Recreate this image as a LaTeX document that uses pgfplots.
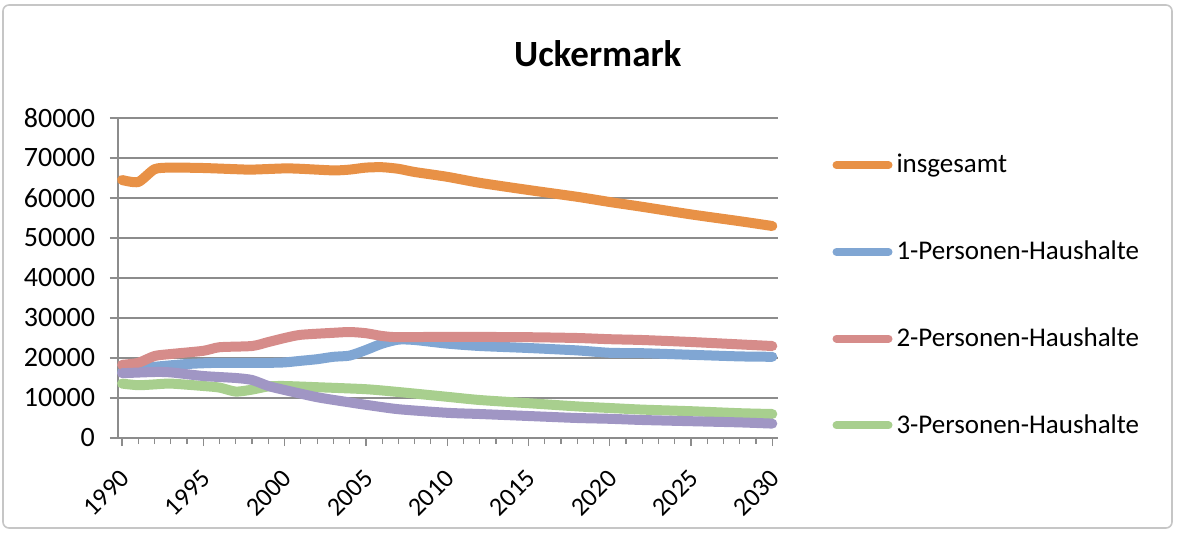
\documentclass[border=0pt]{standalone}
\usepackage{fontspec}
\setmainfont{Carlito}
\usepackage{pgfplots}
\pgfplotsset{compat=1.18}
\definecolor{cOr}{RGB}{232,145,70}
\definecolor{cBl}{RGB}{128,166,211}
\definecolor{cRd}{RGB}{214,140,138}
\definecolor{cGr}{RGB}{168,207,142}
\definecolor{cPu}{RGB}{160,150,196}
\definecolor{cGrid}{RGB}{140,140,140}
\begin{document}
\begin{tikzpicture}
\useasboundingbox (-59pt,-47pt) rectangle (531pt,219pt);
\draw[rounded corners=3pt, gray!45, line width=0.8pt] (-57.5pt,-45pt) rectangle (527pt,216.5pt);
\begin{axis}[
  scale only axis,
  width=330pt, height=160pt,
  at={(0pt,0pt)}, anchor=origin,
  xmin=1989.75, xmax=2030.35,
  ymin=0, ymax=80000,
  ytick distance=10000,
  xtick={1990,1995,...,2030},
  minor xtick={1990,...,2030},
  scaled ticks=false,
  /pgf/number format/.cd, set thousands separator={}, assume math mode=true,
  /pgfplots/.cd,
  xticklabel style={rotate=45, anchor=east, font=\fontsize{13pt}{14pt}\selectfont, xshift=-5.5pt, yshift=-11pt},
  yticklabel style={font=\fontsize{14pt}{15pt}\selectfont, xshift=-4pt},
  axis x line*=bottom, axis y line*=left,
  axis line style={cGrid, line width=0.7pt},
  tick style={cGrid, line width=0.6pt},
  tick align=outside,
  major tick length=4pt, minor tick length=3pt,
  ymajorgrids, major grid style={cGrid, line width=0.8pt},
  title={\bfseries Uckermark},
  title style={font=\fontsize{18.5pt}{19pt}\selectfont, at={(0.727,1.0)}, anchor=south, yshift=16pt},
  legend style={draw=none, fill=none, at={(1.082,0.90)}, anchor=north west,
    font=\fontsize{13.5pt}{14pt}\selectfont, row sep=28.5pt, inner sep=0pt},
  legend cell align=left,
  legend image code/.code={\draw[#1, line width=4pt, line cap=round] (0pt,0pt) -- (26pt,0pt);},
  every axis plot/.append style={line width=5pt, line cap=round, line join=round, smooth, tension=0.4},
  clip=false,
]
\addplot[cOr] coordinates {
(1990,64500)(1991,64000)(1992,67200)(1993,67600)(1995,67500)(1997,67200)(1998,67100)(2000,67400)(2001,67300)(2003,66900)(2004,67100)(2005,67600)(2006,67700)(2007,67300)(2008,66500)(2010,65300)(2012,63800)(2015,62000)(2018,60300)(2020,59000)(2022,57800)(2025,55900)(2028,54200)(2030,53000)};
\addlegendentry{insgesamt}
\addplot[cBl] coordinates {
(1990,16500)(1991,17200)(1992,17800)(1994,18500)(1996,18800)(1999,18800)(2000,18900)(2001,19300)(2002,19700)(2003,20300)(2004,20600)(2005,22000)(2006,23600)(2007,24600)(2008,24500)(2010,23600)(2012,23000)(2015,22500)(2018,21900)(2020,21300)(2022,21200)(2025,20800)(2028,20400)(2030,20300)};
\addlegendentry{1-Personen-Haushalte}
\addplot[cRd] coordinates {
(1990,18300)(1991,18800)(1992,20500)(1993,21000)(1995,21800)(1996,22700)(1998,23000)(1999,24000)(2000,25000)(2001,25800)(2003,26300)(2004,26500)(2005,26200)(2006,25500)(2007,25200)(2010,25300)(2015,25200)(2018,25000)(2020,24700)(2022,24500)(2025,24000)(2028,23400)(2030,23000)};
\addlegendentry{2-Personen-Haushalte}
\addplot[cGr] coordinates {
(1990,13600)(1991,13200)(1992,13400)(1993,13600)(1995,13000)(1996,12600)(1997,11600)(1998,12100)(1999,12900)(2000,13000)(2002,12700)(2005,12200)(2007,11500)(2010,10300)(2012,9500)(2015,8700)(2018,7900)(2020,7500)(2022,7100)(2025,6700)(2028,6200)(2030,6000)};
\addlegendentry{3-Personen-Haushalte}
\addplot[cPu, forget plot] coordinates {
(1990,16200)(1992,16500)(1993,16400)(1995,15500)(1997,15000)(1998,14500)(1999,13000)(2000,12000)(2002,10200)(2004,8900)(2005,8300)(2007,7200)(2010,6300)(2012,6000)(2015,5500)(2018,5000)(2020,4800)(2022,4500)(2025,4200)(2028,3900)(2030,3600)};
\end{axis}
\end{tikzpicture}
\end{document}
